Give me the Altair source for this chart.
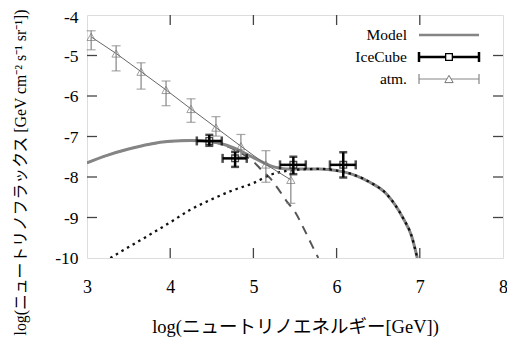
import altair as alt
import pandas as pd

# ---- data ----
# Model (total)
model_x = [3.0, 3.25, 3.5, 3.75, 4.0, 4.25, 4.5, 4.75, 5.0, 5.2, 5.4, 5.6, 5.8, 6.0, 6.2, 6.4, 6.6, 6.8, 6.9, 6.97]
model_y = [-7.65, -7.46, -7.31, -7.19, -7.12, -7.10, -7.13, -7.27, -7.52, -7.72, -7.80, -7.80, -7.80, -7.84, -7.94, -8.13, -8.42, -9.02, -9.45, -10.0]
# atmospheric component (dashed)
atmc_x = [3.0, 3.25, 3.5, 3.75, 4.0, 4.25, 4.5, 4.75, 4.9, 5.0, 5.1, 5.2, 5.3, 5.4, 5.5, 5.6, 5.7, 5.78]
atmc_y = [-7.65, -7.46, -7.31, -7.19, -7.12, -7.10, -7.13, -7.30, -7.47, -7.62, -7.83, -8.03, -8.30, -8.60, -8.86, -9.25, -9.67, -10.0]
# astrophysical component (dotted)
astro_x = [3.28, 3.5, 3.75, 4.0, 4.25, 4.5, 4.75, 5.0, 5.2, 5.4, 5.6, 5.8, 6.0, 6.2, 6.4, 6.6, 6.8, 6.9, 6.97]
astro_y = [-10.0, -9.73, -9.43, -9.12, -8.80, -8.55, -8.33, -8.15, -7.95, -7.85, -7.81, -7.80, -7.84, -7.94, -8.13, -8.42, -9.02, -9.45, -10.0]
# atm. data points
atm_x = [3.05, 3.35, 3.65, 3.95, 4.25, 4.55, 4.85, 5.15, 5.45]
atm_y = [-4.54, -4.95, -5.40, -5.85, -6.32, -6.78, -7.24, -7.69, -8.07]
atm_lo = [-4.86, -5.38, -5.83, -6.24, -6.65, -6.99, -7.50, -8.13, -8.65]
atm_hi = [-4.39, -4.76, -5.18, -5.63, -6.07, -6.51, -6.95, -7.35, -7.80]
# IceCube data points
ic_x = [4.47, 4.78, 5.48, 6.08]
ic_y = [-7.11, -7.54, -7.70, -7.70]
ic_xlo = [4.32, 4.63, 5.32, 5.92]
ic_xhi = [4.62, 4.92, 5.63, 6.23]
ic_ylo = [-7.23, -7.75, -7.93, -8.01]
ic_yhi = [-6.96, -7.38, -7.50, -7.39]
# ticks
x_ticks = [3, 4, 5, 6, 7, 8]
y_ticks = [-10, -9, -8, -7, -6, -5, -4]
legend_labels = ["Model", "IceCube", "atm."]

FONT = "Liberation Serif, Noto Sans CJK JP"
W, H = 416, 243
GRAY = "#858585"
FRAME = "#444444"

xs = alt.Scale(domain=[3, 8], nice=False, zero=False)
ys = alt.Scale(domain=[-10, -4], nice=False, zero=False)

df_model = pd.DataFrame({"x": model_x, "y": model_y})
df_atmc = pd.DataFrame({"x": atmc_x, "y": atmc_y})
df_astro = pd.DataFrame({"x": astro_x, "y": astro_y})
df_atm = pd.DataFrame({"x": atm_x, "y": atm_y, "lo": atm_lo, "hi": atm_hi})
df_ic = pd.DataFrame({"x": ic_x, "y": ic_y, "xlo": ic_xlo, "xhi": ic_xhi, "ylo": ic_ylo, "yhi": ic_yhi})
df_xt = pd.DataFrame({"v": x_ticks[1:-1]})
df_yt = pd.DataFrame({"v": y_ticks[1:-1]})

X = alt.X("x:Q", scale=xs, axis=alt.Axis(
    values=x_ticks, ticks=False, domain=False, grid=False, labelPadding=20,
    labelFont=FONT, labelFontSize=18, labelColor="black", labelFlush=False,
    labelExpr="toString(datum.value)",
    title="log(ニュートリノエネルギー[GeV])", titleFont=FONT, titleFontSize=18.5,
    titleFontWeight="normal", titleColor="black", titleY=74, titleBaseline="alphabetic"))
Y = alt.Y("y:Q", scale=ys, axis=alt.Axis(
    values=y_ticks, ticks=False, domain=False, grid=False, labelPadding=9,
    labelFont=FONT, labelFontSize=17.5, labelColor="black", labelFlush=False,
    labelOffset={"condition": {"test": "datum.value == -4", "value": 2.8}, "value": 0.5},
    labelExpr="toString(datum.value)",
    title="log(ニュートリノフラックス [GeV cm⁻² s⁻¹ sr⁻¹])", titleFont=FONT, titleFontSize=15.8,
    titleFontWeight="normal", titleColor="black", titleX=-67, titleY=157,
    titleAngle=270, titleAlign="center", titleBaseline="middle"))

base_x = alt.X("x:Q", scale=xs)
base_y = alt.Y("y:Q", scale=ys)

dashed = alt.Chart(df_atmc).mark_line(color="#555555", strokeWidth=2, strokeDash=[9, 7], clip=True,
                                      interpolate="monotone").encode(x=X, y=Y)
model = alt.Chart(df_model).mark_line(color=GRAY, strokeWidth=3, clip=True,
                                      interpolate="monotone").encode(x=base_x, y=base_y)
dotted = alt.Chart(df_astro).mark_line(color="#111111", strokeWidth=2.3, strokeDash=[2.5, 4], clip=True,
                                       interpolate="monotone").encode(x=base_x, y=base_y)

atm_line = alt.Chart(df_atm).mark_line(color="#666666", strokeWidth=1).encode(x=base_x, y=base_y)
atm_bar = alt.Chart(df_atm).mark_rule(color=GRAY, strokeWidth=1.2).encode(
    x=base_x, y=alt.Y("lo:Q", scale=ys), y2="hi:Q")
atm_cap_lo = alt.Chart(df_atm).mark_tick(color=GRAY, orient="horizontal", size=9, thickness=1.2).encode(
    x=base_x, y=alt.Y("lo:Q", scale=ys))
atm_cap_hi = alt.Chart(df_atm).mark_tick(color=GRAY, orient="horizontal", size=9, thickness=1.2).encode(
    x=base_x, y=alt.Y("hi:Q", scale=ys))
atm_pts = alt.Chart(df_atm).mark_point(shape="triangle-up", size=70, filled=False, color="#777777", strokeWidth=1).encode(
    x=base_x, y=base_y)

ic_vbar = alt.Chart(df_ic).mark_rule(color="black", strokeWidth=2.5).encode(
    x=base_x, y=alt.Y("ylo:Q", scale=ys), y2="yhi:Q")
ic_hbar = alt.Chart(df_ic).mark_rule(color="black", strokeWidth=2.5).encode(
    x=alt.X("xlo:Q", scale=xs), x2="xhi:Q", y=base_y)
ic_cap_ylo = alt.Chart(df_ic).mark_tick(color="black", orient="horizontal", size=8, thickness=2.5).encode(
    x=base_x, y=alt.Y("ylo:Q", scale=ys))
ic_cap_yhi = alt.Chart(df_ic).mark_tick(color="black", orient="horizontal", size=8, thickness=2.5).encode(
    x=base_x, y=alt.Y("yhi:Q", scale=ys))
ic_cap_xlo = alt.Chart(df_ic).mark_tick(color="black", orient="vertical", size=9, thickness=2.5).encode(
    x=alt.X("xlo:Q", scale=xs), y=base_y)
ic_cap_xhi = alt.Chart(df_ic).mark_tick(color="black", orient="vertical", size=9, thickness=2.5).encode(
    x=alt.X("xhi:Q", scale=xs), y=base_y)
ic_pts = alt.Chart(df_ic).mark_point(shape="square", size=45, filled=False, color="black", strokeWidth=1.3).encode(
    x=base_x, y=base_y)

# inward ticks on all four sides
TL = 10
tick_b = alt.Chart(df_xt).mark_rule(color=FRAME, strokeWidth=1.3).encode(
    x=alt.X("v:Q", scale=xs), y=alt.value(H), y2=alt.value(H - TL))
tick_t = alt.Chart(df_xt).mark_rule(color=FRAME, strokeWidth=1.3).encode(
    x=alt.X("v:Q", scale=xs), y=alt.value(0), y2=alt.value(TL))
tick_l = alt.Chart(df_yt).mark_rule(color=FRAME, strokeWidth=1.3).encode(
    y=alt.Y("v:Q", scale=ys), x=alt.value(0), x2=alt.value(TL))
tick_r = alt.Chart(df_yt).mark_rule(color=FRAME, strokeWidth=1.3).encode(
    y=alt.Y("v:Q", scale=ys), x=alt.value(W), x2=alt.value(W - TL))

# legend (manual, gnuplot style)
LX0, LX1, LXT = 332, 392, 320
rows = [20, 42, 64]
leg_txt = []
for lab, ry in zip(legend_labels, rows):
    leg_txt.append(alt.Chart(pd.DataFrame({"t": [lab]})).mark_text(
        align="right", baseline="middle", font=FONT, fontSize=15.5, color="black").encode(
        text="t:N", x=alt.value(LXT), y=alt.value(ry)))
one = pd.DataFrame({"a": [0]})
leg_model = alt.Chart(one).mark_rule(color=GRAY, strokeWidth=2.5).encode(
    x=alt.value(LX0), x2=alt.value(LX1), y=alt.value(rows[0]))
leg_ic = alt.Chart(one).mark_rule(color="black", strokeWidth=2.5).encode(
    x=alt.value(LX0), x2=alt.value(LX1), y=alt.value(rows[1]))
leg_ic_c1 = alt.Chart(one).mark_rule(color="black", strokeWidth=2.5).encode(
    x=alt.value(LX0), y=alt.value(rows[1] - 5), y2=alt.value(rows[1] + 5))
leg_ic_c2 = alt.Chart(one).mark_rule(color="black", strokeWidth=2.5).encode(
    x=alt.value(LX1), y=alt.value(rows[1] - 5), y2=alt.value(rows[1] + 5))
leg_ic_p = alt.Chart(one).mark_point(shape="square", size=45, filled=True, fill="white", stroke="black", strokeWidth=1.3, opacity=1).encode(
    x=alt.value((LX0 + LX1) / 2), y=alt.value(rows[1]))
leg_atm = alt.Chart(one).mark_rule(color=GRAY, strokeWidth=1.2).encode(
    x=alt.value(LX0), x2=alt.value(LX1), y=alt.value(rows[2]))
leg_atm_c1 = alt.Chart(one).mark_rule(color=GRAY, strokeWidth=1.2).encode(
    x=alt.value(LX0), y=alt.value(rows[2] - 5), y2=alt.value(rows[2] + 5))
leg_atm_c2 = alt.Chart(one).mark_rule(color=GRAY, strokeWidth=1.2).encode(
    x=alt.value(LX1), y=alt.value(rows[2] - 5), y2=alt.value(rows[2] + 5))
leg_atm_p = alt.Chart(one).mark_point(shape="triangle-up", size=70, filled=True, fill="white", stroke="#777777", strokeWidth=1, opacity=1).encode(
    x=alt.value((LX0 + LX1) / 2), y=alt.value(rows[2]))

chart = alt.layer(
    dashed, model, dotted,
    atm_line, atm_bar, atm_cap_lo, atm_cap_hi, atm_pts,
    ic_vbar, ic_hbar, ic_cap_ylo, ic_cap_yhi, ic_cap_xlo, ic_cap_xhi, ic_pts,
    tick_b, tick_t, tick_l, tick_r,
    *leg_txt, leg_model, leg_ic, leg_ic_c1, leg_ic_c2, leg_ic_p,
    leg_atm, leg_atm_c1, leg_atm_c2, leg_atm_p,
).properties(
    width=W, height=H,
    autosize=alt.AutoSizeParams(type="none"),
    padding={"left": 79, "top": 7, "right": 4, "bottom": 80},
).configure_view(stroke=FRAME, strokeWidth=1.5).configure(background="white")

chart.save("out.html", embed_options={"renderer": "svg", "actions": False})
